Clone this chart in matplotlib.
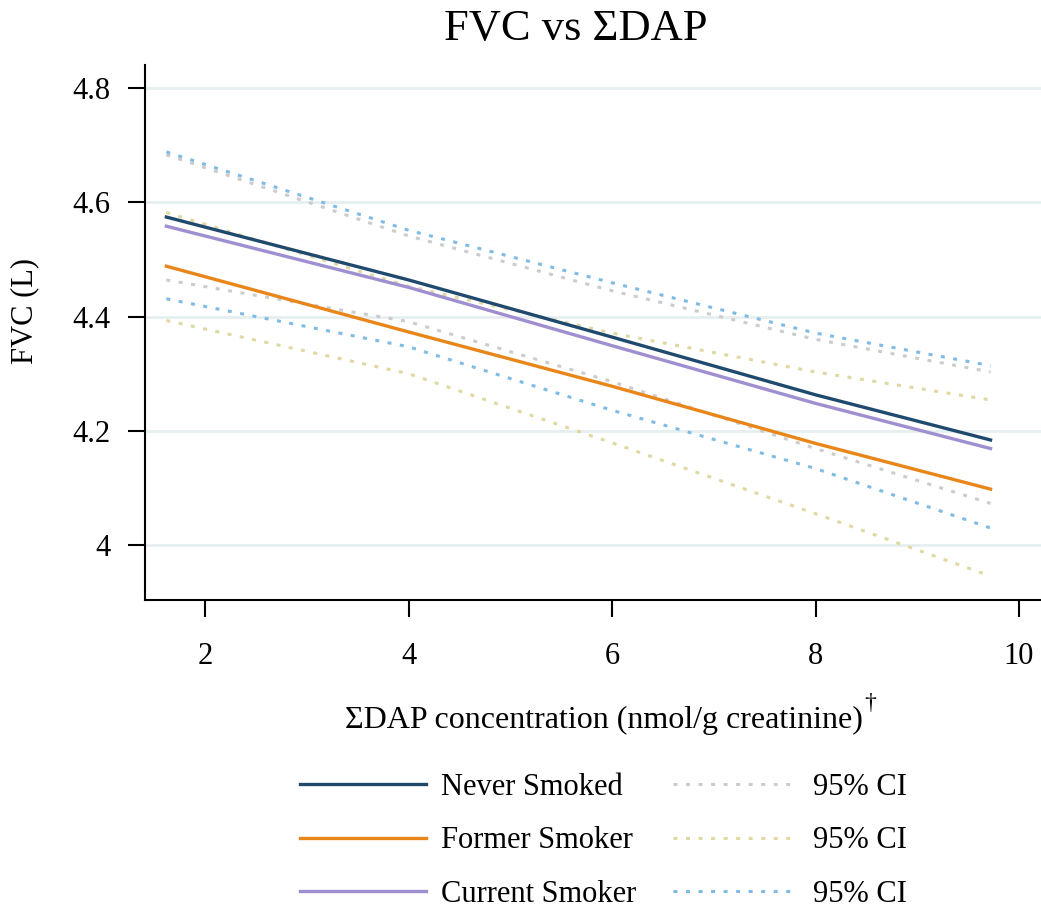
import matplotlib
matplotlib.use('Agg')
import matplotlib.pyplot as plt

plt.rcParams['font.family'] = ['Liberation Serif', 'DejaVu Serif']

# x positions where the curves were read
x_vals = [1.62, 4, 6, 8, 9.72]

# fitted lines
never = [4.574, 4.464, 4.364, 4.263, 4.184]
former = [4.488, 4.373, 4.278, 4.178, 4.098]
current = [4.558, 4.451, 4.349, 4.248, 4.169]

# 95% CI bands
never_hi = [4.683, 4.541, 4.445, 4.360, 4.303]
never_lo = [4.464, 4.391, 4.286, 4.169, 4.073]
former_hi = [4.582, 4.453, 4.371, 4.303, 4.254]
former_lo = [4.393, 4.300, 4.179, 4.055, 3.946]
current_hi = [4.688, 4.551, 4.459, 4.371, 4.314]
current_lo = [4.431, 4.347, 4.236, 4.134, 4.030]

x_ticks = [2, 4, 6, 8, 10]
y_ticks = [4.0, 4.2, 4.4, 4.6, 4.8]
y_tick_labels = ['4', '4.2', '4.4', '4.6', '4.8']

c_never = '#1f4a6e'
c_former = '#e8861a'
c_current = '#a08fd0'
c_ci_never = '#cccccc'
c_ci_former = '#e0d8a2'
c_ci_current = '#7fbbe3'

fig = plt.figure(figsize=(10.41, 9.13), dpi=100)
ax = fig.add_axes([0.1393, 0.3428, 0.8607, 0.586])

dot = (0, (1.3, 2.8))
h_gray, = ax.plot(x_vals, never_hi, color=c_ci_never, lw=2.2, ls=dot)
ax.plot(x_vals, never_lo, color=c_ci_never, lw=2.2, ls=dot)
h_yel, = ax.plot(x_vals, former_hi, color=c_ci_former, lw=2.2, ls=dot)
ax.plot(x_vals, former_lo, color=c_ci_former, lw=2.2, ls=dot)
h_blue, = ax.plot(x_vals, current_hi, color=c_ci_current, lw=2.2, ls=dot)
ax.plot(x_vals, current_lo, color=c_ci_current, lw=2.2, ls=dot)

h_never, = ax.plot(x_vals, never, color=c_never, lw=2.4)
h_former, = ax.plot(x_vals, former, color=c_former, lw=2.4)
h_current, = ax.plot(x_vals, current, color=c_current, lw=2.4)

ax.set_xlim(1.41, 10.216)
ax.set_ylim(3.904, 4.84)
ax.set_xticks(x_ticks)
ax.set_yticks(y_ticks)
ax.set_yticklabels(y_tick_labels)
ax.yaxis.grid(True, color='#e6eff0', lw=2)
ax.set_axisbelow(True)

for s in ['top', 'right']:
    ax.spines[s].set_visible(False)
ax.spines['left'].set_linewidth(1.5)
ax.spines['bottom'].set_linewidth(1.5)
ax.tick_params(axis='x', length=12, width=1.5, pad=18, labelsize=22)
ax.tick_params(axis='y', length=12, width=1.5, pad=13, labelsize=22)

ax.set_ylabel('FVC (L)', fontsize=22)
ax.yaxis.set_label_coords(-0.118, 0.54)
fig.text(0.58, 0.211, 'ΣDAP concentration (nmol/g creatinine)',
         fontsize=23, ha='center', va='center')
fig.text(0.8355, 0.229, '†', fontsize=17, ha='center', va='center')
fig.text(0.553, 0.968, 'FVC vs ΣDAP', fontsize=32, ha='center', va='center')

fig.legend([h_never, h_former, h_current, h_gray, h_yel, h_blue],
           ['Never Smoked', 'Former Smoker', 'Current Smoker',
            '95% CI', '95% CI', '95% CI'],
           ncol=2, loc='center', bbox_to_anchor=(0.58, 0.079),
           frameon=False, fontsize=22, handlelength=4.1,
           handletextpad=0.5, columnspacing=1.2, labelspacing=0.8)

fig.savefig('out.png', dpi=100)
